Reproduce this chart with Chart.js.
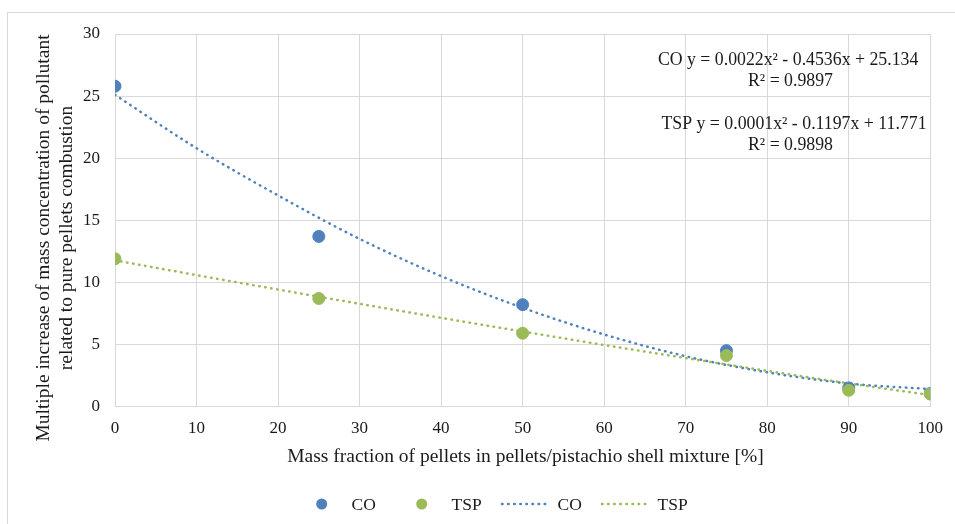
<!DOCTYPE html>
<html>
<head>
<meta charset="utf-8">
<script src="https://cdn.jsdelivr.net/npm/chart.js@4.4.1/dist/chart.umd.min.js"></script>
<style>
    html, body { margin: 0; padding: 0; background: #fff; }
    #wrap { width: 955px; height: 524px; position: relative; }
    canvas { display: block; }
</style>
</head>
<body>
<div id="wrap"><canvas id="emissionChart" width="955" height="524"></canvas></div>
<script>
// measured points
const massFraction = [0, 25, 50, 75, 90, 100];
const coValues = [25.8, 13.7, 8.2, 4.5, 1.5, 1.05];
const tspValues = [11.9, 8.7, 5.9, 4.1, 1.3, 1.0];

// polynomial trend lines, sampled every 10 %
const trendX = [0, 10, 20, 30, 40, 50, 60, 70, 80, 90, 100];
const coTrend = [25.1, 20.8, 17.0, 13.5, 10.5, 7.95, 5.8, 4.05, 2.75, 1.85, 1.4];
const tspTrend = [11.77, 10.58, 9.42, 8.27, 7.14, 6.04, 4.95, 3.9, 2.87, 1.86, 0.92];

const xTicks = [0, 10, 20, 30, 40, 50, 60, 70, 80, 90, 100];
const yTicks = [0, 5, 10, 15, 20, 25, 30];

const coEquation = ['CO', 'y = 0.0022x² - 0.4536x + 25.134', 'R² = 0.9897'];
const tspEquation = ['TSP', 'y = 0.0001x² - 0.1197x + 11.771', 'R² = 0.9898'];

const xTitle = 'Mass fraction of pellets in pellets/pistachio shell mixture [%]';
const yTitle = ['Multiple increase of mass concentration of pollutant', 'related to pure pellets combustion'];

const BLUE = '#4F81BD';
const GREEN = '#9BBB59';
const GRID = '#D9D9D9';
const TEXT = '#1a1a1a';
const SERIF = '"Liberation Serif", "Times New Roman", serif';

const toPoints = (xs, ys) => xs.map((x, i) => ({ x: x, y: ys[i] }));

// frame, axis titles, equations and legend
const decorations = {
    id: 'decorations',
    beforeDraw(chart) {
        const ctx = chart.ctx;
        ctx.save();
        ctx.fillStyle = '#fff';
        ctx.fillRect(0, 0, chart.width, chart.height);
        ctx.strokeStyle = GRID;
        ctx.lineWidth = 1;
        ctx.strokeRect(7.5, 12.5, 1000, 1000);
        ctx.restore();
    },
    afterDraw(chart) {
        const ctx = chart.ctx;
        ctx.save();
        ctx.fillStyle = TEXT;

        // x axis title
        ctx.font = '19.5px ' + SERIF;
        ctx.textAlign = 'center';
        ctx.textBaseline = 'alphabetic';
        ctx.fillText(xTitle, 525.5, 461.5);

        // y axis title, two lines
        ctx.save();
        ctx.translate(0, 238);
        ctx.rotate(-Math.PI / 2);
        ctx.fillText(yTitle[0], 0, 49);
        ctx.fillText(yTitle[1], 0, 71.5);
        ctx.restore();

        // trend equations
        ctx.font = '17.8px ' + SERIF;
        ctx.textAlign = 'left';
        [[coEquation, 658, 687, 65, 86], [tspEquation, 661.5, 696.5, 129, 150]].forEach(([eq, lx, ex, y1, y2]) => {
            ctx.textAlign = 'left';
            ctx.fillText(eq[0], lx, y1);
            ctx.fillText(eq[1], ex, y1);
            ctx.textAlign = 'center';
            ctx.fillText(eq[2], 790.5, y2);
        });

        // legend
        const ly = 504;
        ctx.font = '17.5px ' + SERIF;
        ctx.textAlign = 'left';
        ctx.textBaseline = 'middle';
        [[BLUE, 321.7, 'CO', 351.5], [GREEN, 421.7, 'TSP', 451.5]].forEach(([c, x, label, tx]) => {
            ctx.fillStyle = c;
            ctx.beginPath();
            ctx.arc(x, ly, 5.5, 0, Math.PI * 2);
            ctx.fill();
            ctx.fillStyle = TEXT;
            ctx.fillText(label, tx, ly + 1);
        });
        [[BLUE, 502, 548, 'CO', 557.5], [GREEN, 602, 648, 'TSP', 657.5]].forEach(([c, x0, x1, label, tx]) => {
            ctx.strokeStyle = c;
            ctx.lineWidth = 2.5;
            ctx.lineCap = 'round';
            ctx.setLineDash([0.5, 5.6]);
            ctx.beginPath();
            ctx.moveTo(x0, ly);
            ctx.lineTo(x1, ly);
            ctx.stroke();
            ctx.setLineDash([]);
            ctx.fillStyle = TEXT;
            ctx.fillText(label, tx, ly + 1);
        });
        ctx.restore();
    }
};

const trendStyle = color => ({
    type: 'scatter',
    showLine: true,
    borderColor: color,
    borderWidth: 2.5,
    borderDash: [0.5, 5.6],
    borderCapStyle: 'round',
    cubicInterpolationMode: 'monotone',
    pointRadius: 0,
    pointHoverRadius: 0,
    fill: false
});

new Chart(document.getElementById('emissionChart'), {
    type: 'scatter',
    data: {
        datasets: [
            { label: 'TSP', data: toPoints(massFraction, tspValues), backgroundColor: GREEN, borderColor: GREEN, pointRadius: 6, order: 0 },
            { label: 'CO', data: toPoints(massFraction, coValues), backgroundColor: BLUE, borderColor: BLUE, pointRadius: 6, order: 1 },
            Object.assign({ label: 'TSP trend', data: toPoints(trendX, tspTrend), order: 2 }, trendStyle(GREEN)),
            Object.assign({ label: 'CO trend', data: toPoints(trendX, coTrend), order: 3 }, trendStyle(BLUE))
        ]
    },
    options: {
        responsive: false,
        animation: false,
        devicePixelRatio: 1,
        layout: { padding: { left: 0, top: 34, right: 21, bottom: 0 } },
        plugins: {
            legend: { display: false },
            tooltip: { enabled: false }
        },
        scales: {
            x: {
                type: 'linear',
                min: 0,
                max: 100,
                afterBuildTicks: scale => { scale.ticks = xTicks.map(v => ({ value: v })); },
                afterFit: scale => { scale.height = 117.5; },
                grid: { color: GRID, drawTicks: false },
                border: { color: GRID },
                ticks: { color: TEXT, padding: 12, font: { family: SERIF, size: 17 } }
            },
            y: {
                type: 'linear',
                min: 0,
                max: 30,
                afterBuildTicks: scale => { scale.ticks = yTicks.map(v => ({ value: v })); },
                afterFit: scale => { scale.width = 115; },
                grid: { color: GRID, drawTicks: false },
                border: { color: GRID },
                ticks: { color: TEXT, padding: 15, font: { family: SERIF, size: 17 } }
            }
        }
    },
    plugins: [decorations]
});
</script>
</body>
</html>
